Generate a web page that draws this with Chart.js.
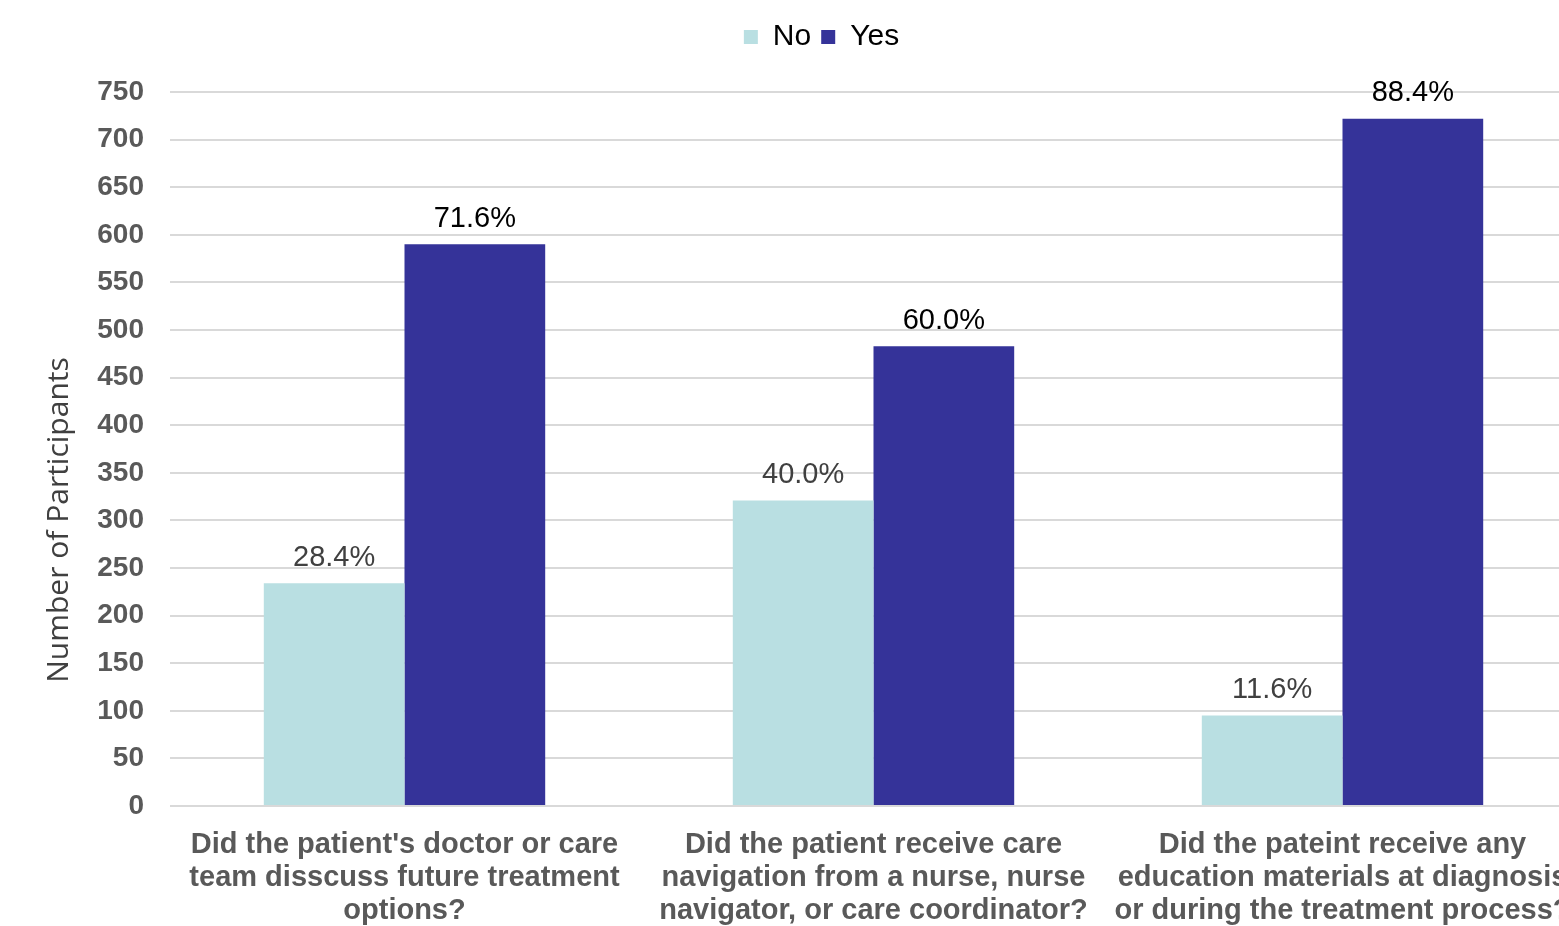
<!DOCTYPE html>
<html>
<head>
<meta charset="utf-8">
<title>Participants</title>
<script src="https://cdn.jsdelivr.net/npm/chart.js@4/dist/chart.umd.min.js"></script>
<style>
    html, body { margin: 0; padding: 0; background: #fff; overflow: hidden; }
    #wrap { width: 1628px; height: 926px; }
</style>
</head>
<body>
<div id="wrap"><canvas id="chart" width="1628" height="926"></canvas></div>
<script>
// ── Data ─────────────────────────────────────────────────────────────────────

const categories = [
    ["Did the patient's doctor or care", "team disscuss future treatment", "options?"],
    ["Did the patient receive care", "navigation from a nurse, nurse", "navigator, or care coordinator?"],
    ["Did the pateint receive any", "education materials at diagnosis", "or during the treatment process?"]
];
const noValues  = [234, 321, 95];
const yesValues = [590, 483, 722];
const noLabels  = ['28.4%', '40.0%', '11.6%'];
const yesLabels = ['71.6%', '60.0%', '88.4%'];
const yTicks    = [0, 50, 100, 150, 200, 250, 300, 350, 400, 450, 500, 550, 600, 650, 700, 750];
const yTitle    = 'Number of Participants';

const FONT = "'Liberation Sans', Arial, sans-serif";

// ── Plugins ──────────────────────────────────────────────────────────────────

// value labels above each bar
const barLabels = {
    id: 'barLabels',
    afterDatasetsDraw(chart) {
        const ctx = chart.ctx;
        ctx.save();
        ctx.font = `29px ${FONT}`;
        ctx.textAlign = 'center';
        ctx.textBaseline = 'bottom';
        chart.data.datasets.forEach((ds, i) => {
            const meta = chart.getDatasetMeta(i);
            ctx.fillStyle = ds.labelColor;
            meta.data.forEach((bar, j) => {
                ctx.fillText(ds.valueLabels[j], bar.x, bar.y - 11);
            });
        });
        ctx.restore();
    }
};

// legend: taller box so plot starts lower, nudged like the original
const legendTweak = {
    id: 'legendTweak',
    afterInit(chart) {
        const lg = chart.legend;
        const fit = lg.fit;
        lg.fit = function () {
            fit.call(this);
            this.height = 92;
        };
        const draw = lg.draw;
        lg.draw = function () {
            chart.ctx.save();
            chart.ctx.translate(33, 12);
            draw.call(this);
            chart.ctx.restore();
        };
    }
};

// y axis title, placed like the original (not centred on the plot)
const yTitleText = {
    id: 'yTitleText',
    afterDraw(chart) {
        const ctx = chart.ctx;
        ctx.save();
        ctx.translate(59, 520);
        ctx.rotate(-Math.PI / 2);
        ctx.font = "30px 'Open Sans', sans-serif";
        ctx.fillStyle = '#404040';
        ctx.textAlign = 'center';
        ctx.textBaseline = 'middle';
        ctx.fillText(yTitle, 0, 0);
        ctx.restore();
    }
};

// ── Chart ────────────────────────────────────────────────────────────────────

new Chart(document.getElementById('chart').getContext('2d'), {
    type: 'bar',
    data: {
        labels: categories,
        datasets: [
            {
                label: 'No',
                data: noValues,
                valueLabels: noLabels,
                labelColor: '#404040',
                backgroundColor: '#b9dfe2',
                categoryPercentage: 0.6,
                barPercentage: 1.0
            },
            {
                label: 'Yes',
                data: yesValues,
                valueLabels: yesLabels,
                labelColor: '#000000',
                backgroundColor: '#353399',
                categoryPercentage: 0.6,
                barPercentage: 1.0
            }
        ]
    },
    options: {
        responsive: false,
        animation: false,
        devicePixelRatio: 1,
        layout: { padding: { left: 0, right: 51, top: 0, bottom: 0 } },
        plugins: {
            legend: {
                position: 'top',
                labels: {
                    color: '#000',
                    font: { family: FONT, size: 30 },
                    boxWidth: 14,
                    boxHeight: 14,
                    padding: 10
                }
            },
            tooltip: { enabled: false }
        },
        scales: {
            x: {
                grid: { display: false },
                border: { display: false },
                ticks: {
                    color: '#595959',
                    font: { family: FONT, size: 29, weight: 'bold', lineHeight: 1.14 },
                    padding: 14,
                    maxRotation: 0,
                    autoSkip: false
                },
                afterFit(scale) { scale.height = 120; }
            },
            y: {
                min: 0,
                max: 750,
                afterBuildTicks(scale) { scale.ticks = yTicks.map(v => ({ value: v })); },
                grid: { color: '#d9d9d9', lineWidth: 2, drawTicks: false },
                border: { display: false },
                ticks: {
                    color: '#595959',
                    font: { family: FONT, size: 28, weight: 'bold' },
                    padding: 26
                },
                afterFit(scale) { scale.width = 170; }
            }
        }
    },
    plugins: [barLabels, legendTweak, yTitleText]
});
</script>
</body>
</html>
